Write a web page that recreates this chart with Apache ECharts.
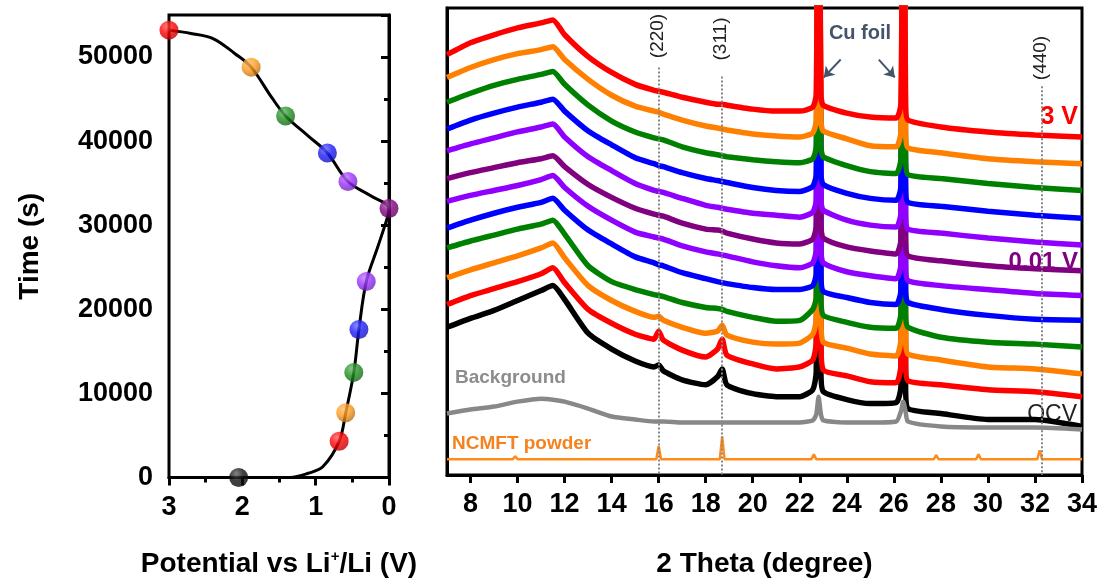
<!DOCTYPE html>
<html lang="en">
<head>
<meta charset="UTF-8">
<title>Operando XRD</title>
<script src="https://cdn.jsdelivr.net/npm/echarts@6/dist/echarts.min.js"></script>
<style>html,body{margin:0;padding:0;background:#fff}</style>
</head>
<body>
<div id="main" style="width:1102px;height:583px;"></div>
<script>
// ---- left panel: charge/discharge curve (potential V, time s)
var curvePotential = [2.05, 1.6, 1.35, 1.1, 0.9, 0.68, 0.59, 0.48, 0.41, 0.31, 0.15, 0.02, 0, 0.25, 0.56, 0.84, 1.1, 1.41, 1.6, 1.88, 2.1, 2.4, 2.7, 3.0];
var curveTime = [0, 0, 0, 500, 1300, 4300, 7700, 12500, 17600, 23300, 27500, 31000, 32000, 33500, 35200, 38600, 40600, 43000, 45200, 48800, 50400, 52200, 52800, 53200];
var ballPotential = [2.05, 0.68, 0.59, 0.48, 0.41, 0.31, 0, 0.56, 0.84, 1.41, 1.88, 3.0];
var ballTime = [0, 4300, 7700, 12500, 17600, 23300, 32000, 35200, 38600, 43000, 48800, 53200];
var ballColors = ['#111111', '#ff0000', '#ff9a1a', '#1f8f1f', '#1a1aff', '#9b30ff', '#800080', '#9b30ff', '#1a1aff', '#1f8f1f', '#ff9a1a', '#ff0000'];

// ---- right panel: XRD patterns (2 theta, stacked intensity a.u.)
var twoTheta = [7, 8, 9, 10, 11, 11.5, 12, 13, 14, 15, 15.8, 16, 16.2, 17, 18, 18.5, 18.7, 18.9, 20, 21, 22, 22.55, 22.7, 22.8, 22.9, 23, 24, 25, 26.1, 26.3, 26.4, 26.5, 26.6, 28, 30, 32, 34];
var patOCV = [149, 158, 166, 176, 186, 191, 177, 143, 127, 115, 109, 111, 105, 96, 91, 99, 107, 91, 82, 79, 79, 86, 104, 700, 104, 84, 76, 72, 73, 89, 700, 89, 67, 62, 56, 56, 49];
var patD1 = [172, 181, 188, 195, 203, 209, 194, 167, 153, 142, 137, 145, 136, 126, 119, 127, 137, 121, 112, 107, 109, 116, 134, 700, 134, 106, 100, 94, 93, 111, 700, 111, 95, 91, 86, 84, 79];
var patD2 = [199, 207, 214, 221, 229, 234, 219, 191, 176, 165, 159, 160, 156, 149, 143, 145, 151, 141, 134, 132, 133, 142, 157, 700, 157, 134, 128, 122, 120, 137, 700, 137, 122, 116, 109, 107, 102];
var patD3 = [229, 236, 242, 248, 253, 257, 243, 211, 195, 187, 182, 181, 180, 174, 169, 168, 167, 165, 159, 155, 156, 167, 179, 700, 179, 161, 154, 149, 148, 163, 700, 163, 149, 139, 134, 132, 129];
var patD4 = [249, 257, 264, 270, 275, 279, 267, 247, 233, 220, 214, 212, 211, 204, 198, 195, 194, 193, 189, 187, 187, 191, 203, 700, 203, 185, 179, 174, 172, 186, 700, 186, 174, 167, 161, 157, 156];
var patD5 = [276, 282, 287, 292, 298, 302, 290, 271, 257, 245, 240, 239, 238, 231, 225, 223, 222, 221, 215, 211, 209, 214, 227, 700, 227, 214, 205, 201, 198, 212, 700, 212, 196, 191, 187, 183, 181];
var pat001V = [299, 305, 310, 315, 319, 322, 311, 293, 280, 269, 263, 262, 261, 254, 248, 247, 246, 244, 238, 234, 233, 238, 251, 700, 251, 239, 230, 226, 223, 237, 700, 237, 221, 216, 211, 208, 206];
var patC1 = [327, 334, 340, 346, 351, 354, 341, 321, 307, 294, 287, 286, 285, 279, 272, 270, 269, 268, 264, 262, 260, 265, 277, 700, 277, 267, 257, 252, 250, 264, 700, 264, 248, 244, 239, 235, 232];
var patC2 = [349, 358, 365, 371, 376, 379, 367, 347, 333, 320, 314, 312, 311, 305, 299, 297, 296, 295, 290, 287, 286, 291, 303, 700, 303, 293, 284, 279, 277, 291, 700, 291, 275, 271, 266, 262, 259];
var patC3 = [376, 385, 393, 399, 404, 407, 394, 373, 357, 346, 340, 339, 338, 331, 325, 323, 322, 321, 318, 316, 315, 319, 331, 700, 331, 321, 312, 306, 304, 319, 700, 319, 303, 299, 294, 290, 287];
var patC4 = [401, 411, 419, 425, 429, 432, 419, 399, 383, 372, 367, 366, 364, 358, 352, 350, 349, 348, 344, 342, 341, 345, 357, 700, 357, 347, 339, 332, 331, 346, 700, 346, 330, 325, 319, 316, 314];
var pat3V = [424, 436, 444, 451, 456, 459, 444, 422, 406, 394, 388, 387, 386, 381, 376, 374, 374, 373, 369, 367, 367, 371, 384, 700, 384, 373, 365, 361, 360, 374, 700, 374, 358, 351, 346, 343, 341];
var patBackground = [62, 66, 69, 74, 77, 76, 74, 67, 59, 56, 54, 54, 54, 53, 53, 53, 53, 53, 53, 53, 53, 55, 61, 79, 61, 55, 53, 53, 54, 64, 74, 64, 54, 49, 48, 48, 46];
var powderTheta = [7, 9.8, 9.9, 10, 15.9, 16, 16.1, 18.6, 18.7, 18.8, 22.5, 22.6, 22.7, 27.7, 27.8, 27.9, 29.5, 29.6, 29.7, 32.1, 32.2, 32.3, 34];
var powderI = [16, 16, 19, 16, 16, 29, 16, 16, 39, 16, 16, 21, 16, 16, 20, 16, 16, 21, 16, 16, 25, 16, 16];

var patterns = [patOCV, patD1, patD2, patD3, patD4, patD5, pat001V, patC1, patC2, patC3, patC4, pat3V];
var patternColors = ['#000000', '#ff0000', '#ff8000', '#008000', '#0000ff', '#8f00ff', '#800080', '#8f00ff', '#0000ff', '#008000', '#ff8000', '#ff0000'];
var tickTheta = [8, 10, 12, 14, 16, 18, 20, 22, 24, 26, 28, 30, 32, 34];

var FONT = '"Liberation Sans", Arial, sans-serif';

function zip(xs, ys) {
	return xs.map(function (x, i) { return [x, ys[i]]; });
}

// mix a colour towards white (f > 0) or black (f < 0)
function shade(c, f) {
	var rgb = echarts.color.parse(c);
	var out = rgb.slice(0, 3).map(function (v) {
		return Math.round(f > 0 ? v + (255 - v) * f : v * (1 + f));
	});
	return 'rgb(' + out.join(',') + ')';
}

var chart = echarts.init(document.getElementById('main'));

var series = [];

// left curve
series.push({
	type: 'line', xAxisIndex: 0, yAxisIndex: 0,
	data: zip(curvePotential, curveTime),
	smooth: 0.35, showSymbol: false,
	lineStyle: { color: '#000', width: 3 },
	z: 3
});
series.push({
	type: 'scatter', xAxisIndex: 0, yAxisIndex: 0,
	data: zip(ballPotential, ballTime).map(function (p, i) {
		var c = ballColors[i];
		return {
			value: p,
			itemStyle: {
				color: {
					type: 'radial', x: 0.38, y: 0.3, r: 0.8,
					colorStops: [
						{ offset: 0, color: shade(c, 0.35) },
						{ offset: 0.45, color: c },
						{ offset: 1, color: shade(c, -0.35) }
					]
				}
			}
		};
	}),
	symbolSize: 19, clip: false, z: 4
});

// XRD traces
patterns.forEach(function (p, i) {
	series.push({
		type: 'line', xAxisIndex: 1, yAxisIndex: 1,
		data: zip(twoTheta, p),
		showSymbol: false, smooth: 0.2,
		lineStyle: { color: patternColors[i], width: 5.5 },
		z: 2 + i * 0.01
	});
});
series.push({
	type: 'line', xAxisIndex: 1, yAxisIndex: 1,
	data: zip(twoTheta, patBackground),
	showSymbol: false, smooth: 0.2,
	lineStyle: { color: '#888888', width: 4.5 },
	z: 2
});
series.push({
	type: 'line', xAxisIndex: 1, yAxisIndex: 1,
	data: zip(powderTheta, powderI),
	showSymbol: false,
	lineStyle: { color: '#ff8c1a', width: 2.5 },
	z: 2
});
// reference lines and arrows
var arrowStyle = { color: '#44546a', type: 'solid', width: 2 };
series.push({
	type: 'line', xAxisIndex: 1, yAxisIndex: 1, data: [], z: 6,
	markLine: {
		silent: true, symbol: 'none', animation: false,
		label: { show: false },
		lineStyle: { color: '#888', type: [2, 2], width: 2 },
		data: [
			[{ coord: [16, 411] }, { coord: [16, 0] }],
			[{ coord: [18.7, 402] }, { coord: [18.7, 0] }],
			[{ coord: [32.3, 392] }, { coord: [32.3, 0] }],
			[{ coord: [23.74, 419], lineStyle: arrowStyle, symbol: 'none' },
			 { coord: [23.02, 401], symbol: 'arrow', symbolSize: 10 }],
			[{ coord: [25.36, 419], lineStyle: arrowStyle, symbol: 'none' },
			 { coord: [26.04, 401], symbol: 'arrow', symbolSize: 10 }]
		]
	}
});

var axisTxt = { color: '#000', fontSize: 27, fontWeight: 'bold', fontFamily: FONT };
var nameTxt = { color: '#000', fontSize: 28, fontWeight: 'bold', fontFamily: FONT };

var option = {
	animation: false,
	backgroundColor: '#fff',
	grid: [
		{ left: 169, right: 713, top: 15, bottom: 105, show: true, borderColor: '#000', borderWidth: 3 },
		{ left: 447, right: 20, top: 8, bottom: 104, show: true, borderColor: '#000', borderWidth: 3 }
	],
	xAxis: [
		{
			gridIndex: 0, type: 'value', min: 0, max: 3, interval: 1, inverse: true,
			name: '{a|Potential vs Li}{s|+}{a|/Li (V)}', nameLocation: 'middle', nameGap: 72,
			nameTextStyle: { rich: { a: nameTxt, s: { color: '#000', fontSize: 15, fontWeight: 'bold', fontFamily: FONT, padding: [0, 0, 14, 0] } } },
			axisLine: { lineStyle: { color: '#000', width: 3 } },
			axisTick: { length: 8, lineStyle: { width: 3 } },
			minorTick: { show: true, splitNumber: 2, length: 5, lineStyle: { color: '#000', width: 3 } },
			axisLabel: Object.assign({ margin: 17 }, axisTxt),
			splitLine: { show: false }
		},
		{
			gridIndex: 1, type: 'value', min: 7, max: 34,
			name: '2 Theta (degree)', nameLocation: 'middle', nameGap: 75, nameTextStyle: nameTxt,
			axisLine: { lineStyle: { color: '#000', width: 3 } },
			axisTick: { length: 8, lineStyle: { width: 3 }, customValues: tickTheta },
			axisLabel: Object.assign({ margin: 16, customValues: tickTheta }, axisTxt),
			splitLine: { show: false }
		}
	],
	yAxis: [
		{
			gridIndex: 0, type: 'value', min: 0, max: 55000, interval: 10000,
			name: 'Time (s)', nameLocation: 'middle', nameGap: 125, nameTextStyle: nameTxt,
			axisLine: { lineStyle: { color: '#000', width: 3 } },
			axisTick: { length: 8, lineStyle: { width: 3 } },
			minorTick: { show: true, splitNumber: 2, length: 5, lineStyle: { color: '#000', width: 3 } },
			axisLabel: Object.assign({ margin: 16, showMaxLabel: false, formatter: function (v) { return String(v); } }, axisTxt),
			splitLine: { show: false }
		},
		{
			gridIndex: 1, type: 'value', min: 0, max: 471,
			axisLine: { show: true, lineStyle: { color: '#000', width: 3 } },
			axisTick: { show: false }, axisLabel: { show: false },
			splitLine: { show: false }
		}
	],
	graphic: [
		{ type: 'text', x: 658, y: 36, rotation: Math.PI / 2, style: { text: '(220)', fontSize: 19, fontFamily: FONT, fill: '#222', align: 'center', verticalAlign: 'middle' } },
		{ type: 'text', x: 721, y: 39, rotation: Math.PI / 2, style: { text: '(311)', fontSize: 19, fontFamily: FONT, fill: '#222', align: 'center', verticalAlign: 'middle' } },
		{ type: 'text', x: 1041, y: 58, rotation: Math.PI / 2, style: { text: '(440)', fontSize: 19, fontFamily: FONT, fill: '#222', align: 'center', verticalAlign: 'middle' } },
		{ type: 'text', x: 860, y: 33, style: { text: 'Cu foil', fontSize: 20, fontWeight: 'bold', fontFamily: FONT, fill: '#44546a', align: 'center', verticalAlign: 'middle' } },
		{ type: 'text', x: 1078, y: 117, style: { text: '3 V', fontSize: 25, fontWeight: 'bold', fontFamily: FONT, fill: '#ff0000', align: 'right', verticalAlign: 'middle' } },
		{ type: 'text', x: 1078, y: 262, style: { text: '0.01 V', fontSize: 24, fontWeight: 'bold', fontFamily: FONT, fill: '#800080', align: 'right', verticalAlign: 'middle' } },
		{ type: 'text', x: 1077, y: 415, style: { text: 'OCV', fontSize: 23, fontFamily: FONT, fill: '#222', align: 'right', verticalAlign: 'middle' } },
		{ type: 'text', x: 455, y: 378, style: { text: 'Background', fontSize: 19, fontWeight: 'bold', fontFamily: FONT, fill: '#8c8c8c', align: 'left', verticalAlign: 'middle' } },
		{ type: 'text', x: 452, y: 444, style: { text: 'NCMFT powder', fontSize: 19, fontWeight: 'bold', fontFamily: FONT, fill: '#f5821f', align: 'left', verticalAlign: 'middle' } }
	],
	series: series
};

chart.setOption(option);
</script>
</body>
</html>
